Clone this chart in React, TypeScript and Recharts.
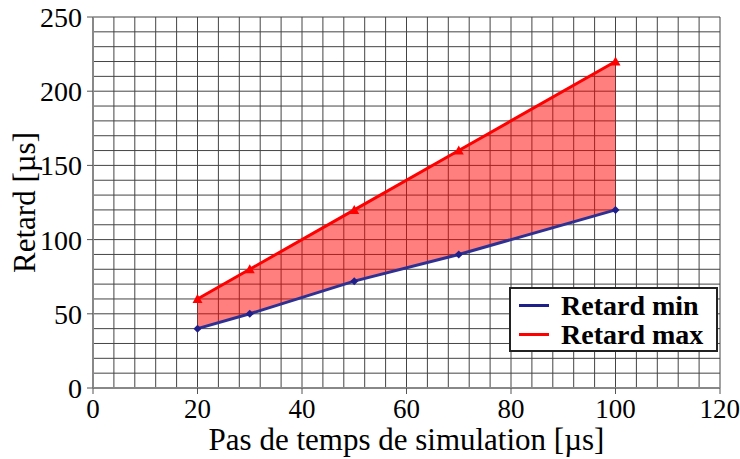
import React from 'react'
import { ComposedChart, Area, Line, XAxis, YAxis, CartesianGrid } from "recharts";

const steps = [20, 30, 50, 70, 100];
const delayMin = [40, 50, 72, 90, 120];
const delayMax = [60, 80, 120, 160, 220];

const xTicks = [0, 20, 40, 60, 80, 100, 120];
const yTicks = [0, 50, 100, 150, 200, 250];
const xGridTicks = [0, 4, 8, 12, 16, 20, 24, 28, 32, 36, 40, 44, 48, 52, 56, 60, 64, 68, 72, 76, 80, 84, 88, 92, 96, 100, 104, 108, 112, 116, 120];
const yGridTicks = [0, 10, 20, 30, 40, 50, 60, 70, 80, 90, 100, 110, 120, 130, 140, 150, 160, 170, 180, 190, 200, 210, 220, 230, 240, 250];

const chartData = steps.map((s, i) => ({
    step: s,
    min: delayMin[i],
    max: delayMax[i],
    range: [delayMin[i], delayMax[i]],
}));

const serif = '"Liberation Serif", "Times New Roman", serif';

const Diamond = (props: any) => {
    const { cx, cy } = props;
    if (cx == null || cy == null) return null;
    const r = 4;
    return <polygon points={`${cx},${cy - r} ${cx + r},${cy} ${cx},${cy + r} ${cx - r},${cy}`} fill="#1F1F8A" />;
};

const Triangle = (props: any) => {
    const { cx, cy } = props;
    if (cx == null || cy == null) return null;
    const r = 5;
    return <polygon points={`${cx},${cy - r} ${cx + r},${cy + r * 0.8} ${cx - r},${cy + r * 0.8}`} fill="#FF0000" />;
};

// grid lines follow the axis scales, with the plot box as fallback
const vGen = ({ xAxis, offset }: any) => {
    if (xAxis && typeof xAxis.scale === 'function') return xGridTicks.map((t) => xAxis.scale(t));
    return xGridTicks.map((t) => offset.left + (t / 120) * offset.width);
};
const hGen = ({ yAxis, offset }: any) => {
    if (yAxis && typeof yAxis.scale === 'function') return yGridTicks.map((t) => yAxis.scale(t));
    return yGridTicks.map((t) => offset.top + offset.height - (t / 250) * offset.height);
};

const LegendBox = () => (
    <div style={{
        position: 'absolute', left: 509, top: 287, width: 209, height: 65,
        border: '2px solid #222', background: '#fff',
        boxSizing: 'border-box', padding: '2px 0 0 8px', fontFamily: serif,
        fontWeight: 'bold', fontSize: 28, lineHeight: '29px', color: '#000',
    }}>
        <div style={{ display: 'flex', alignItems: 'center' }}>
            <span style={{ display: 'inline-block', width: 30, height: 3, background: '#1F1F8A', marginRight: 12 }} />
            Retard min
        </div>
        <div style={{ display: 'flex', alignItems: 'center' }}>
            <span style={{ display: 'inline-block', width: 30, height: 3, background: '#FF0000', marginRight: 12 }} />
            Retard max
        </div>
    </div>
);

function App() {
    return (
        <div style={{ position: 'absolute', left: 0, top: 0, width: 740, height: 459, background: '#fff' }}>
            <ComposedChart width={740} height={459} data={chartData}
                margin={{ top: 17, right: 20, left: 0, bottom: 0 }}>
                <CartesianGrid stroke="#444" strokeWidth={1}
                    verticalCoordinatesGenerator={vGen} horizontalCoordinatesGenerator={hGen} />
                <XAxis type="number" dataKey="step" domain={[0, 120]} ticks={xTicks} height={71}
                    tick={{ fontFamily: serif, fontSize: 27, fill: '#000' }} tickSize={6} tickMargin={5}
                    axisLine={{ stroke: '#888', strokeWidth: 2 }} tickLine={{ stroke: '#555' }}
                    label={{ value: 'Pas de temps de simulation [µs]', position: 'insideBottom', offset: 9, fontFamily: serif, fontSize: 31, fill: '#000' }} />
                <YAxis type="number" domain={[0, 250]} ticks={yTicks} width={93}
                    tick={{ fontFamily: serif, fontSize: 28, fill: '#000' }} tickSize={6} tickMargin={5}
                    axisLine={{ stroke: '#888', strokeWidth: 2 }} tickLine={{ stroke: '#555' }}
                    label={{ value: 'Retard [µs]', angle: -90, position: 'insideLeft', offset: 24, style: { textAnchor: 'middle' }, fontFamily: serif, fontSize: 31, fill: '#000' }} />
                <Area type="linear" dataKey="range" fill="#FF0000" fillOpacity={0.5} stroke="none" isAnimationActive={false} />
                <Line type="linear" dataKey="min" name="Retard min" stroke="#2E3192" strokeWidth={3} dot={<Diamond />} isAnimationActive={false} />
                <Line type="linear" dataKey="max" name="Retard max" stroke="#FF0000" strokeWidth={3} dot={<Triangle />} isAnimationActive={false} />
            </ComposedChart>
            <LegendBox />
        </div>
    )
}

export default App
